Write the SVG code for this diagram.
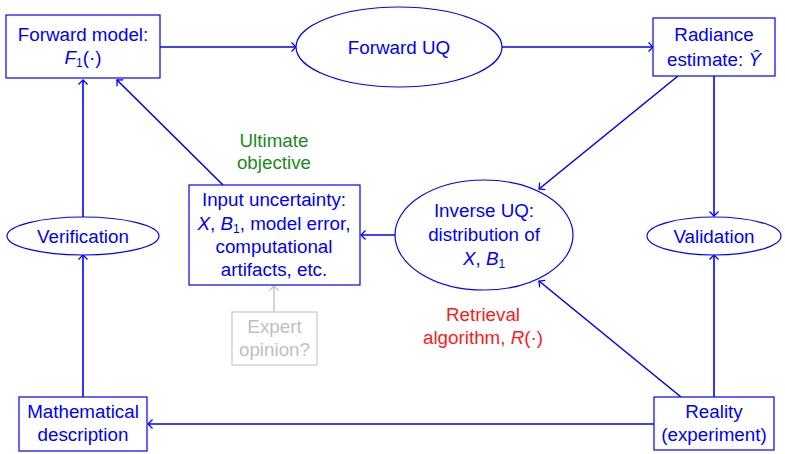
<svg xmlns="http://www.w3.org/2000/svg" width="785" height="454" viewBox="0 0 785 454">
<style>
text{font-family:"Liberation Sans",Arial,sans-serif;font-size:18.8px;fill:#0000ff;text-anchor:middle}
.node{fill:#fff;stroke:#0000ff;stroke-width:1.2}
.conn{fill:none;stroke:#0000ff;stroke-width:1.6;marker-end:url(#arr)}
.gray{fill:none;stroke:#c0c0c0;stroke-width:1.4}
.it{font-style:italic}
.sub{font-size:12px}
</style>
<defs>
<marker id="arr" viewBox="-6 -6 8 12" markerWidth="8" markerHeight="12" refX="0" refY="0" orient="auto" markerUnits="userSpaceOnUse">
<path d="M-4.5,-4.5 Q-1,-1 0,0 Q-1,1 -4.5,4.5" fill="none" stroke="#0000ff" stroke-width="1.3"/>
</marker>
<marker id="arrg" viewBox="-6 -6 8 12" markerWidth="8" markerHeight="12" refX="0" refY="0" orient="auto" markerUnits="userSpaceOnUse">
<path d="M-4.5,-4.5 Q-1,-1 0,0 Q-1,1 -4.5,4.5" fill="none" stroke="#c0c0c0" stroke-width="1.3"/>
</marker>
</defs>
<g id="connectors">
<line class="conn" x1="160" y1="47" x2="296" y2="47"/>
<line class="conn" x1="502" y1="47" x2="653" y2="47"/>
<line class="conn" x1="678" y1="76" x2="539" y2="189"/>
<line class="conn" x1="714" y1="76" x2="714" y2="216"/>
<line class="conn" x1="395" y1="235" x2="361" y2="235"/>
<line class="conn" x1="223" y1="185" x2="117" y2="80"/>
<line class="conn" x1="83" y1="217" x2="83" y2="80"/>
<line class="conn" x1="83" y1="397" x2="83" y2="255"/>
<line class="conn" x1="654" y1="424" x2="148" y2="424"/>
<line class="conn" x1="681" y1="397" x2="539" y2="281"/>
<line class="conn" x1="714" y1="397" x2="714" y2="255"/>
<line class="gray" x1="274" y1="312" x2="274" y2="286" marker-end="url(#arrg)"/>
</g>
<g id="forward-model">
<rect class="node" x="6" y="15" width="154" height="63"/>
<text x="83" y="41">Forward model:</text>
<text x="83" y="64"><tspan class="it">F</tspan><tspan class="sub" dy="3">1</tspan><tspan dy="-3">(·)</tspan></text>
</g>
<g id="forward-uq">
<ellipse class="node" cx="399" cy="47" rx="103" ry="40"/>
<text x="399" y="54">Forward UQ</text>
</g>
<g id="radiance">
<rect class="node" x="653" y="18" width="122" height="58"/>
<text x="714" y="41">Radiance</text>
<text x="714" y="66">estimate: <tspan class="it">Ŷ</tspan></text>
</g>
<g id="inverse-uq">
<ellipse class="node" cx="484" cy="235" rx="89" ry="55"/>
<text x="484" y="217">Inverse UQ:</text>
<text x="484" y="241">distribution of</text>
<text x="484" y="265"><tspan class="it">X</tspan>, <tspan class="it">B</tspan><tspan class="sub" dy="3">1</tspan></text>
</g>
<g id="validation">
<ellipse class="node" cx="714" cy="236" rx="67" ry="19"/>
<text x="714" y="243">Validation</text>
</g>
<g id="verification">
<ellipse class="node" cx="83" cy="236" rx="76" ry="19"/>
<text x="83" y="243">Verification</text>
</g>
<g id="input-uncertainty">
<rect class="node" x="189" y="185" width="171" height="100"/>
<text x="274" y="206">Input uncertainty:</text>
<text x="274" y="230"><tspan class="it">X</tspan>, <tspan class="it">B</tspan><tspan class="sub" dy="3">1</tspan><tspan dy="-3">, model error,</tspan></text>
<text x="274" y="253">computational</text>
<text x="274" y="276">artifacts, etc.</text>
</g>
<g id="ultimate-objective">
<text x="274" y="147" style="fill:#1a8a1a">Ultimate</text>
<text x="274" y="169" style="fill:#1a8a1a">objective</text>
</g>
<g id="expert-opinion">
<rect x="232" y="312" width="85" height="53" fill="#fff" stroke="#c8c8c8" stroke-width="1.2"/>
<text x="274.5" y="333" style="fill:#c0c0c0">Expert</text>
<text x="274.5" y="356" style="fill:#c0c0c0">opinion?</text>
</g>
<g id="retrieval">
<text x="483" y="321" style="fill:#ff1a1a">Retrieval</text>
<text x="483" y="344" style="fill:#ff1a1a">algorithm, <tspan class="it">R</tspan>(·)</text>
</g>
<g id="mathematical-description">
<rect class="node" x="19" y="397" width="128" height="54"/>
<text x="83" y="418">Mathematical</text>
<text x="83" y="441">description</text>
</g>
<g id="reality">
<rect class="node" x="654" y="397" width="120" height="53"/>
<text x="714" y="418">Reality</text>
<text x="714" y="441">(experiment)</text>
</g>
</svg>
